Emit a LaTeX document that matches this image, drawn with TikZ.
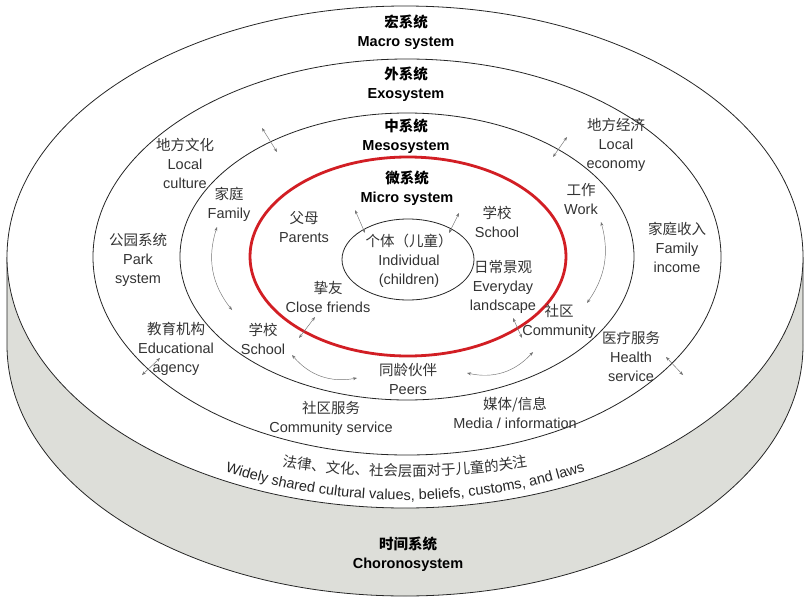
\documentclass[tikz,border=0pt]{standalone}
\usepackage{fontspec}
\setmainfont{Liberation Sans}
\newfontfamily\cjk{Noto Sans CJK SC}
\usetikzlibrary{arrows.meta,decorations.text}
\definecolor{sidegrey}{RGB}{221,222,217}
\definecolor{redc}{RGB}{210,30,36}
\begin{document}
\begin{tikzpicture}[x=1pt,y=-1pt,
  lbl/.style={align=center, inner sep=0pt, text=black!80, font=\fontsize{14.5}{19}\selectfont},
  ttl/.style={align=center, inner sep=0pt, text=black, font=\fontsize{14.5}{19}\selectfont\bfseries},
  ring/.style={draw=black!85, line width=0.8pt},
  arr/.style={{Stealth[length=4pt,width=3pt]}-{Stealth[length=4pt,width=3pt]}, draw=black!55, line width=0.45pt},
]
\useasboundingbox (0,0) rectangle (808,602);
% cylinder side
\fill[sidegrey] (7,257) rectangle (803,345);
\fill[sidegrey] (405,345) ellipse [x radius=398, y radius=251];
\draw[ring] (7,257) -- (7,345) arc[start angle=180, end angle=0, x radius=398, y radius=251] -- (803,257);
% top face
\fill[white] (405,257) ellipse [x radius=398, y radius=251];
\draw[ring] (405,257) ellipse [x radius=398, y radius=251];
\draw[ring] (407,257) ellipse [x radius=314, y radius=198];
\draw[ring] (407,256.5) ellipse [x radius=227, y radius=143.5];
\draw[draw=redc, line width=2.8pt] (408,256.5) ellipse [x radius=158, y radius=99.5];
\draw[ring] (408,259.5) ellipse [x radius=66, y radius=40.5];

% titles
\node[ttl] (macro) at (406,32.5) {{\cjk 宏系统}\\Macro system};
\node[ttl] (exo) at (406,84.5) {{\cjk 外系统}\\Exosystem};
\node[ttl] (meso) at (406,136.5) {{\cjk 中系统}\\Mesosystem};
\node[ttl] (micro) at (407,188) {{\cjk 微系统}\\Micro system};
\node[ttl] (chrono) at (408,554.5) {{\cjk 时间系统}\\Choronosystem};

% labels
\node[lbl] (indiv) at (409,260.5) {{\cjk 个体（儿童）}\\Individual\\(children)};
\node[lbl] (parents) at (304,227.5) {{\cjk 父母}\\Parents};
\node[lbl] (school1) at (497,222) {{\cjk 学校}\\School};
\node[lbl] (friends) at (328,296.5) {{\cjk 挚友}\\Close friends};
\node[lbl] (everyday) at (503,286.5) {{\cjk 日常景观}\\Everyday\\landscape};
\node[lbl] (lculture) at (185,163) {{\cjk 地方文化}\\Local\\culture};
\node[lbl] (family) at (229,204) {{\cjk 家庭}\\Family};
\node[lbl] (work) at (581,199) {{\cjk 工作}\\Work};
\node[lbl] (leconomy) at (616,145) {{\cjk 地方经济}\\Local\\economy};
\node[lbl] (park) at (138,260) {{\cjk 公园系统}\\Park\\system};
\node[lbl] (fincome) at (677,247) {{\cjk 家庭收入}\\Family\\income};
\node[lbl] (edu) at (176,349) {{\cjk 教育机构}\\Educational\\agency};
\node[lbl] (school2) at (263,338.5) {{\cjk 学校}\\School};
\node[lbl] (community) at (559,321.5) {{\cjk 社区}\\Community};
\node[lbl] (health) at (631,356.5) {{\cjk 医疗服务}\\Health\\service};
\node[lbl] (peers) at (408,379) {{\cjk 同龄伙伴}\\Peers};
\node[lbl] (commserv) at (331,418) {{\cjk 社区服务}\\Community service};
\node[lbl] (media) at (515,412.5) {{\cjk 媒体/信息}\\Media / information};

% arrow end points
\coordinate (a1s) at (262,128); \coordinate (a1e) at (277,152);
\coordinate (a2s) at (567,137); \coordinate (a2e) at (553,157);
\coordinate (a3s) at (217,227); \coordinate (a3e) at (232,310);
\coordinate (a4s) at (601,222); \coordinate (a4e) at (587,303);
\coordinate (a5s) at (355,210); \coordinate (a5e) at (365,233);
\coordinate (a6s) at (459,213); \coordinate (a6e) at (449,233);
\coordinate (a7s) at (315,317); \coordinate (a7e) at (299,338);
\coordinate (a8s) at (513,318); \coordinate (a8e) at (522,338);
\coordinate (a9s) at (292,355); \coordinate (a9e) at (357,378);
\coordinate (a10s) at (467,373); \coordinate (a10e) at (533,352);
\coordinate (a11s) at (160,358); \coordinate (a11e) at (142,375);
\coordinate (a12s) at (666,357); \coordinate (a12e) at (683,375);

\draw[arr] (a1s) -- (a1e);
\draw[arr] (a2s) -- (a2e);
\draw[arr] (a3s) to[bend right=28] (a3e);
\draw[arr] (a4s) to[bend left=25] (a4e);
\draw[arr] (a5s) -- (a5e);
\draw[arr] (a6s) -- (a6e);
\draw[arr] (a7s) -- (a7e);
\draw[arr] (a8s) -- (a8e);
\draw[arr] (a9s) to[bend right=30] (a9e);
\draw[arr] (a10s) to[bend right=30] (a10e);
\draw[arr] (a11s) -- (a11e);
\draw[arr] (a12s) -- (a12e);

% curved texts
\path[decorate, decoration={text along path, text align=center,
  text={|\cjk\fontsize{14.5}{17}\selectfont\color{black!80}|法律、文化、社会层面对于儿童的关注}}]
  ([shift={(150:420 and 219)}]405,257) arc[start angle=150, end angle=30, x radius=420, y radius=219];
\path[decorate, decoration={text along path, text align=center,
  text={|\fontsize{14.5}{17}\selectfont\color{black!85}|Widely shared cultural values, beliefs, customs, and laws}}]
  ([shift={(150:382 and 243)}]405,257) arc[start angle=150, end angle=30, x radius=382, y radius=243];
\end{tikzpicture}
\end{document}
